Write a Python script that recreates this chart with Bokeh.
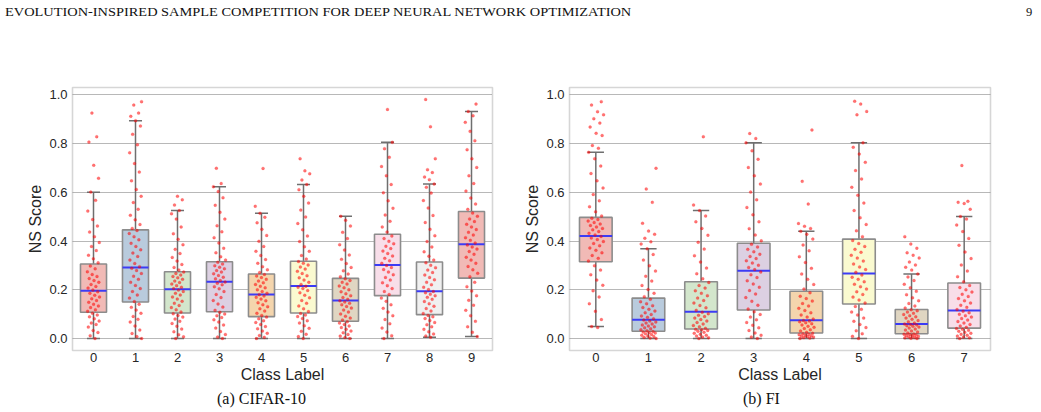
from bokeh.plotting import figure
from bokeh.models import Div, ColumnDataSource, FixedTicker, Range1d
from bokeh.layouts import column, row
from bokeh.embed import file_html
from bokeh.resources import INLINE

HEADER = "EVOLUTION-INSPIRED SAMPLE COMPETITION FOR DEEP NEURAL NETWORK OPTIMIZATION"
PAGE = "9"
CAPTION_A = "(a) CIFAR-10"
CAPTION_B = "(b) FI"
X_LABEL = "Class Label"
Y_LABEL = "NS Score"

# ---------------- CIFAR-10 ----------------
cifar_labels = ["0", "1", "2", "3", "4", "5", "6", "7", "8", "9"]
cifar_lo = [0.0, 0.0, 0.0, 0.0, 0.0, 0.0, 0.0, 0.0, 0.005, 0.008]
cifar_q1 = [0.108, 0.150, 0.105, 0.110, 0.090, 0.105, 0.071, 0.176, 0.098, 0.248]
cifar_med = [0.196, 0.292, 0.202, 0.233, 0.181, 0.216, 0.156, 0.302, 0.194, 0.387]
cifar_q3 = [0.306, 0.446, 0.274, 0.315, 0.265, 0.317, 0.247, 0.428, 0.314, 0.521]
cifar_hi = [0.600, 0.894, 0.525, 0.623, 0.514, 0.632, 0.502, 0.805, 0.634, 0.932]

cifar_pts_0 = [0.0, 0.012, 0.025, 0.033, 0.047, 0.058, 0.064, 0.072, 0.081, 0.089, 0.097, 0.104, 0.112, 0.118, 0.127, 0.134, 0.141, 0.149, 0.156, 0.163, 0.171, 0.178, 0.186, 0.192, 0.199, 0.207, 0.214, 0.222, 0.231, 0.238, 0.246, 0.255, 0.263, 0.274, 0.286, 0.298, 0.311, 0.327, 0.342, 0.361, 0.378, 0.394, 0.418, 0.437, 0.462, 0.488, 0.523, 0.567, 0.601, 0.658, 0.711, 0.806, 0.828, 0.925]
cifar_pts_1 = [0.0, 0.008, 0.021, 0.035, 0.052, 0.068, 0.079, 0.091, 0.104, 0.117, 0.128, 0.141, 0.152, 0.166, 0.179, 0.193, 0.205, 0.218, 0.231, 0.243, 0.256, 0.267, 0.279, 0.288, 0.295, 0.308, 0.322, 0.337, 0.351, 0.364, 0.378, 0.391, 0.405, 0.418, 0.431, 0.443, 0.452, 0.468, 0.487, 0.506, 0.531, 0.558, 0.584, 0.612, 0.647, 0.683, 0.718, 0.762, 0.795, 0.838, 0.872, 0.894, 0.912, 0.925, 0.958, 0.972]
cifar_pts_2 = [0.0, 0.007, 0.016, 0.028, 0.039, 0.051, 0.062, 0.071, 0.08, 0.088, 0.095, 0.102, 0.109, 0.118, 0.127, 0.136, 0.145, 0.153, 0.162, 0.171, 0.179, 0.186, 0.193, 0.199, 0.205, 0.211, 0.217, 0.224, 0.23, 0.236, 0.243, 0.249, 0.255, 0.261, 0.267, 0.273, 0.281, 0.292, 0.304, 0.318, 0.333, 0.349, 0.366, 0.385, 0.407, 0.43, 0.458, 0.49, 0.512, 0.525, 0.548, 0.569, 0.584]
cifar_pts_3 = [0.0, 0.006, 0.017, 0.029, 0.043, 0.056, 0.068, 0.077, 0.086, 0.094, 0.101, 0.108, 0.116, 0.129, 0.142, 0.156, 0.168, 0.181, 0.193, 0.204, 0.213, 0.221, 0.227, 0.232, 0.238, 0.245, 0.252, 0.259, 0.266, 0.273, 0.279, 0.286, 0.293, 0.299, 0.306, 0.313, 0.322, 0.336, 0.352, 0.371, 0.392, 0.414, 0.438, 0.463, 0.49, 0.518, 0.547, 0.578, 0.603, 0.623, 0.636, 0.699]
cifar_pts_4 = [0.0, 0.005, 0.013, 0.022, 0.031, 0.04, 0.049, 0.058, 0.066, 0.073, 0.081, 0.088, 0.095, 0.104, 0.113, 0.122, 0.131, 0.139, 0.147, 0.155, 0.162, 0.169, 0.175, 0.18, 0.186, 0.193, 0.2, 0.208, 0.215, 0.222, 0.229, 0.236, 0.243, 0.25, 0.257, 0.263, 0.271, 0.282, 0.295, 0.309, 0.324, 0.341, 0.358, 0.378, 0.399, 0.423, 0.448, 0.475, 0.498, 0.514, 0.543, 0.698]
cifar_pts_5 = [0.0, 0.008, 0.018, 0.03, 0.042, 0.053, 0.064, 0.073, 0.082, 0.09, 0.097, 0.103, 0.111, 0.122, 0.134, 0.145, 0.156, 0.167, 0.178, 0.188, 0.197, 0.205, 0.211, 0.215, 0.222, 0.231, 0.24, 0.249, 0.258, 0.267, 0.276, 0.285, 0.294, 0.302, 0.309, 0.316, 0.326, 0.341, 0.358, 0.377, 0.398, 0.421, 0.446, 0.472, 0.499, 0.527, 0.556, 0.584, 0.611, 0.632, 0.651, 0.676, 0.688, 0.738]
cifar_pts_6 = [0.0, 0.004, 0.01, 0.017, 0.024, 0.031, 0.038, 0.045, 0.052, 0.058, 0.064, 0.069, 0.076, 0.084, 0.092, 0.101, 0.109, 0.117, 0.125, 0.132, 0.139, 0.145, 0.15, 0.155, 0.161, 0.168, 0.176, 0.184, 0.192, 0.2, 0.208, 0.216, 0.224, 0.231, 0.238, 0.245, 0.254, 0.265, 0.278, 0.292, 0.308, 0.325, 0.343, 0.363, 0.385, 0.41, 0.436, 0.462, 0.485, 0.502]
cifar_pts_7 = [0.0, 0.012, 0.027, 0.043, 0.061, 0.078, 0.094, 0.109, 0.124, 0.139, 0.153, 0.166, 0.181, 0.193, 0.205, 0.217, 0.229, 0.24, 0.251, 0.262, 0.273, 0.283, 0.292, 0.3, 0.309, 0.319, 0.329, 0.339, 0.349, 0.359, 0.369, 0.379, 0.389, 0.399, 0.41, 0.421, 0.437, 0.458, 0.481, 0.507, 0.535, 0.565, 0.598, 0.632, 0.668, 0.706, 0.744, 0.779, 0.805, 0.94]
cifar_pts_8 = [0.005, 0.011, 0.019, 0.028, 0.038, 0.048, 0.057, 0.066, 0.074, 0.082, 0.089, 0.095, 0.103, 0.113, 0.123, 0.133, 0.143, 0.152, 0.161, 0.169, 0.176, 0.182, 0.188, 0.193, 0.201, 0.211, 0.221, 0.231, 0.241, 0.251, 0.261, 0.271, 0.281, 0.291, 0.301, 0.311, 0.322, 0.338, 0.356, 0.376, 0.398, 0.422, 0.448, 0.476, 0.505, 0.536, 0.566, 0.597, 0.621, 0.634, 0.652, 0.663, 0.681, 0.693, 0.738, 0.869, 0.981]
cifar_pts_9 = [0.008, 0.026, 0.048, 0.071, 0.094, 0.116, 0.137, 0.157, 0.176, 0.195, 0.213, 0.231, 0.254, 0.268, 0.282, 0.296, 0.309, 0.322, 0.334, 0.346, 0.357, 0.367, 0.376, 0.384, 0.392, 0.403, 0.414, 0.425, 0.436, 0.447, 0.458, 0.469, 0.48, 0.491, 0.502, 0.515, 0.53, 0.552, 0.577, 0.605, 0.636, 0.668, 0.702, 0.738, 0.775, 0.812, 0.85, 0.887, 0.914, 0.932, 0.962]

# ---------------- FI ----------------
fi_labels = ["0", "1", "2", "3", "4", "5", "6", "7"]
fi_lo = [0.049, 0.0, 0.0, 0.0, 0.0, 0.0, 0.0, 0.0]
fi_q1 = [0.315, 0.030, 0.039, 0.117, 0.023, 0.142, 0.020, 0.043]
fi_med = [0.421, 0.077, 0.110, 0.278, 0.075, 0.267, 0.060, 0.115]
fi_q3 = [0.497, 0.166, 0.233, 0.391, 0.194, 0.408, 0.119, 0.228]
fi_hi = [0.764, 0.368, 0.525, 0.803, 0.440, 0.803, 0.265, 0.501]

fi_pts_0 = [0.045, 0.049, 0.078, 0.112, 0.143, 0.171, 0.196, 0.219, 0.24, 0.262, 0.281, 0.299, 0.318, 0.329, 0.341, 0.352, 0.362, 0.372, 0.381, 0.39, 0.398, 0.406, 0.413, 0.419, 0.425, 0.432, 0.439, 0.446, 0.452, 0.458, 0.464, 0.47, 0.476, 0.482, 0.488, 0.494, 0.503, 0.52, 0.541, 0.565, 0.591, 0.618, 0.647, 0.677, 0.708, 0.738, 0.764, 0.781, 0.792, 0.833, 0.842, 0.868, 0.884, 0.902, 0.918, 0.931, 0.958, 0.972]
fi_pts_1 = [0.0, 0.002, 0.005, 0.008, 0.011, 0.014, 0.017, 0.02, 0.023, 0.025, 0.027, 0.029, 0.032, 0.036, 0.04, 0.044, 0.048, 0.052, 0.056, 0.06, 0.064, 0.068, 0.072, 0.076, 0.081, 0.087, 0.093, 0.099, 0.106, 0.113, 0.12, 0.127, 0.135, 0.143, 0.151, 0.161, 0.172, 0.186, 0.201, 0.218, 0.236, 0.256, 0.277, 0.299, 0.322, 0.345, 0.368, 0.388, 0.397, 0.412, 0.428, 0.441, 0.473, 0.559, 0.614, 0.699]
fi_pts_2 = [0.0, 0.003, 0.006, 0.01, 0.014, 0.018, 0.022, 0.026, 0.03, 0.033, 0.036, 0.038, 0.042, 0.048, 0.054, 0.06, 0.066, 0.072, 0.078, 0.084, 0.09, 0.096, 0.102, 0.108, 0.116, 0.126, 0.136, 0.146, 0.156, 0.166, 0.176, 0.186, 0.196, 0.207, 0.218, 0.23, 0.245, 0.266, 0.289, 0.314, 0.34, 0.367, 0.395, 0.424, 0.452, 0.479, 0.503, 0.525, 0.548, 0.828]
fi_pts_3 = [0.0, 0.006, 0.014, 0.023, 0.033, 0.044, 0.055, 0.066, 0.077, 0.088, 0.099, 0.11, 0.121, 0.137, 0.153, 0.168, 0.183, 0.197, 0.211, 0.224, 0.237, 0.25, 0.262, 0.273, 0.283, 0.292, 0.301, 0.31, 0.319, 0.328, 0.337, 0.346, 0.356, 0.366, 0.376, 0.387, 0.401, 0.425, 0.451, 0.479, 0.508, 0.538, 0.569, 0.601, 0.634, 0.668, 0.702, 0.736, 0.77, 0.803, 0.821, 0.841]
fi_pts_4 = [0.0, 0.002, 0.004, 0.006, 0.008, 0.01, 0.012, 0.014, 0.016, 0.018, 0.02, 0.022, 0.026, 0.031, 0.036, 0.041, 0.046, 0.051, 0.056, 0.061, 0.065, 0.069, 0.072, 0.074, 0.08, 0.088, 0.097, 0.106, 0.115, 0.124, 0.134, 0.144, 0.154, 0.164, 0.174, 0.188, 0.203, 0.222, 0.243, 0.265, 0.288, 0.312, 0.336, 0.36, 0.384, 0.408, 0.428, 0.44, 0.452, 0.461, 0.472, 0.552, 0.645, 0.856]
fi_pts_5 = [0.0, 0.009, 0.02, 0.032, 0.045, 0.058, 0.071, 0.084, 0.097, 0.109, 0.12, 0.132, 0.146, 0.158, 0.17, 0.181, 0.192, 0.203, 0.213, 0.223, 0.233, 0.243, 0.252, 0.261, 0.272, 0.283, 0.294, 0.306, 0.318, 0.33, 0.342, 0.354, 0.366, 0.378, 0.39, 0.402, 0.418, 0.442, 0.468, 0.496, 0.525, 0.556, 0.588, 0.621, 0.655, 0.689, 0.723, 0.757, 0.785, 0.803, 0.918, 0.932, 0.962, 0.974]
fi_pts_6 = [0.0, 0.001, 0.003, 0.005, 0.007, 0.009, 0.011, 0.013, 0.015, 0.017, 0.018, 0.019, 0.023, 0.027, 0.031, 0.035, 0.039, 0.043, 0.047, 0.05, 0.053, 0.056, 0.058, 0.06, 0.064, 0.069, 0.074, 0.079, 0.084, 0.089, 0.094, 0.099, 0.104, 0.109, 0.114, 0.118, 0.125, 0.134, 0.144, 0.155, 0.167, 0.18, 0.194, 0.208, 0.223, 0.238, 0.253, 0.265, 0.281, 0.293, 0.302, 0.314, 0.331, 0.342, 0.352, 0.371, 0.388, 0.418]
fi_pts_7 = [0.0, 0.003, 0.006, 0.01, 0.014, 0.018, 0.022, 0.026, 0.03, 0.034, 0.038, 0.041, 0.046, 0.052, 0.058, 0.064, 0.07, 0.076, 0.082, 0.088, 0.094, 0.1, 0.106, 0.112, 0.119, 0.128, 0.137, 0.146, 0.155, 0.164, 0.173, 0.182, 0.191, 0.2, 0.209, 0.218, 0.233, 0.254, 0.277, 0.302, 0.328, 0.355, 0.383, 0.411, 0.439, 0.466, 0.49, 0.501, 0.531, 0.554, 0.559, 0.563, 0.71]

cifar_points = [cifar_pts_0, cifar_pts_1, cifar_pts_2, cifar_pts_3, cifar_pts_4,
                cifar_pts_5, cifar_pts_6, cifar_pts_7, cifar_pts_8, cifar_pts_9]
fi_points = [fi_pts_0, fi_pts_1, fi_pts_2, fi_pts_3, fi_pts_4, fi_pts_5, fi_pts_6, fi_pts_7]

box_colors = ["#f1bab6", "#b9cbdd", "#d3e6cc", "#dcd0e2", "#f4d5ad",
              "#fafad0", "#e0d6c2", "#f8dee9", "#f0f0f0", "#f1bab6"]

SANS = "Liberation Sans"
SERIF = "Liberation Serif"


def make_panel(labels, lo, q1, med, q3, hi, points, width, left, right):
    n = len(labels)
    p = figure(width=width, height=325,
               x_range=Range1d(-0.5, n - 0.5), y_range=Range1d(-0.049, 1.03),
               output_backend="svg", toolbar_location=None,
               min_border_left=left, min_border_right=right,
               min_border_top=27, min_border_bottom=34)
    p.title.visible = False
    p.background_fill_color = "white"
    p.border_fill_color = "white"
    p.outline_line_color = "#d6d6d6"
    p.outline_line_width = 1.6

    xs = list(range(n))
    src = ColumnDataSource(dict(
        x=xs, lo=lo, q1=q1, med=med, q3=q3, hi=hi,
        color=box_colors[:n],
    ))
    bw = 0.62
    # whiskers
    p.segment(x0="x", y0="q3", x1="x", y1="hi", source=src, line_color="#6f6f6f", line_width=1.5)
    p.segment(x0="x", y0="lo", x1="x", y1="q1", source=src, line_color="#6f6f6f", line_width=1.5)
    # caps
    cap_src = ColumnDataSource(dict(
        xl=[x - bw / 4 for x in xs], xr=[x + bw / 4 for x in xs], lo=lo, hi=hi))
    p.segment(x0="xl", y0="hi", x1="xr", y1="hi", source=cap_src, line_color="#6f6f6f", line_width=1.5)
    p.segment(x0="xl", y0="lo", x1="xr", y1="lo", source=cap_src, line_color="#6f6f6f", line_width=1.5)
    # boxes
    p.vbar(x="x", width=bw, bottom="q1", top="q3", source=src,
           fill_color="color", line_color="#8c8c8c", line_width=1.6)
    # medians
    med_src = ColumnDataSource(dict(
        xl=[x - bw / 2 for x in xs], xr=[x + bw / 2 for x in xs], med=med))
    p.segment(x0="xl", y0="med", x1="xr", y1="med", source=med_src, line_color="#3c3cf5", line_width=2)

    # jittered points (deterministic low-discrepancy offsets)
    px, py = [], []
    for i, vals in enumerate(points):
        for j, v in enumerate(vals):
            off = (((j + 1) * 0.6180339887 + i * 0.371) % 1.0 - 0.5) * 0.30
            px.append(i + off)
            py.append(v)
    p.scatter(x=px, y=py, size=3.0, fill_color="red", line_color="red",
              fill_alpha=0.55, line_alpha=0.3, line_width=0.5)

    p.xaxis.ticker = FixedTicker(ticks=xs)
    p.xaxis.major_label_overrides = {i: lab for i, lab in enumerate(labels)}
    p.yaxis.ticker = FixedTicker(ticks=[0.0, 0.2, 0.4, 0.6, 0.8, 1.0])
    p.yaxis.major_label_overrides = {0.0: "0.0", 0.2: "0.2", 0.4: "0.4",
                                     0.6: "0.6", 0.8: "0.8", 1.0: "1.0"}
    for ax in (p.xaxis, p.yaxis):
        ax.axis_line_color = None
        ax.major_tick_line_color = None
        ax.minor_tick_line_color = None
        ax.major_tick_out = 0
        ax.major_tick_in = 0
        ax.major_label_text_font = SANS
        ax.major_label_text_font_size = "13px"
        ax.major_label_text_color = "#262626"
        ax.axis_label_text_font = SANS
        ax.axis_label_text_font_size = "16px"
        ax.axis_label_text_font_style = "normal"
        ax.axis_label_text_color = "#262626"
    p.xaxis.axis_label = X_LABEL
    p.yaxis.axis_label = Y_LABEL
    p.xaxis.major_label_standoff = 2
    p.xaxis.axis_label_standoff = 1
    p.yaxis.major_label_standoff = 5
    p.yaxis.axis_label_standoff = 2

    p.xgrid.grid_line_color = None
    p.ygrid.grid_line_color = "#707070"
    p.ygrid.grid_line_dash = "1 1"
    p.ygrid.grid_line_width = 1
    return p


p1 = make_panel(cifar_labels, cifar_lo, cifar_q1, cifar_med, cifar_q3, cifar_hi,
                cifar_points, 515, 72, 23)
p2 = make_panel(fi_labels, fi_lo, fi_q1, fi_med, fi_q3, fi_hi,
                fi_points, 526, 54, 51)

header_html = (
    '<div style="position:relative;width:1041px;height:60px;'
    f"font-family:'{SERIF}';color:#111;\">"
    '<span style="position:absolute;left:5px;top:4px;font-size:12.5px;white-space:nowrap;'
    f'display:inline-block;transform-origin:0 0;transform:scaleX(1.15);">{HEADER}</span>'
    f'<span style="position:absolute;left:1026px;top:4px;font-size:12.5px;">{PAGE}</span>'
    '</div>'
)
header = Div(text=header_html, width=1041, height=60, margin=(0, 0, 0, 0))

caption_html = (
    '<div style="position:relative;width:1041px;height:27px;'
    f"font-family:'{SERIF}';color:#111;font-size:16px;\">"
    f'<span style="position:absolute;left:217px;top:3px;white-space:nowrap;">{CAPTION_A}</span>'
    f'<span style="position:absolute;left:743px;top:3px;white-space:nowrap;">{CAPTION_B}</span>'
    '</div>'
)
caption = Div(text=caption_html, width=1041, height=27, margin=(0, 0, 0, 0))

layout = column(header, row(p1, p2, spacing=0), caption, spacing=0)

open("out.html", "w").write(file_html(layout, INLINE))
